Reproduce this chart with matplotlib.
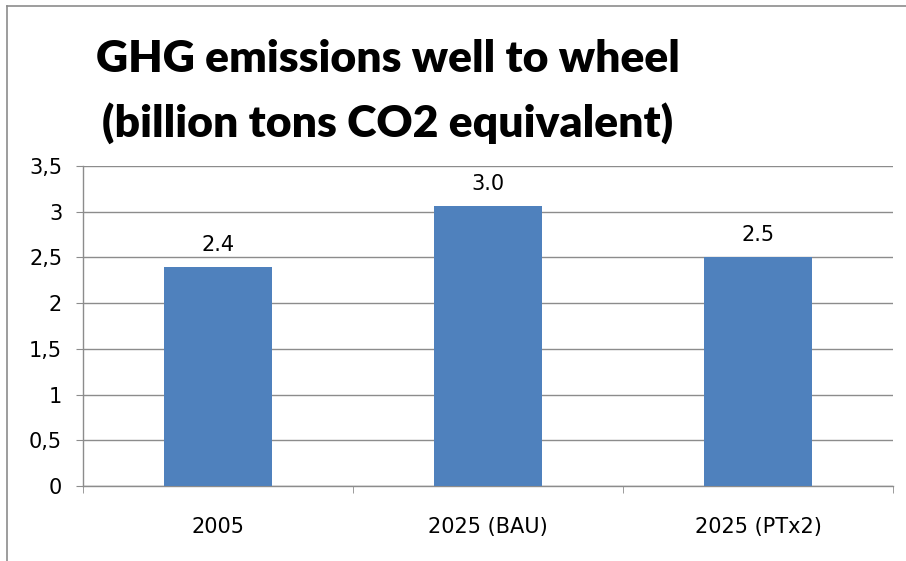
import matplotlib
matplotlib.use("Agg")
import matplotlib.pyplot as plt
from matplotlib.lines import Line2D
from matplotlib.ticker import FuncFormatter, FixedLocator
import numpy as np

categories = ["2005", "2025 (BAU)", "2025 (PTx2)"]
values = [2.39, 3.06, 2.5]
value_labels = ["2.4", "3.0", "2.5"]
yticks = [0, 0.5, 1, 1.5, 2, 2.5, 3, 3.5]

plt.rcParams['font.family'] = ['DejaVu Sans']

fig = plt.figure(figsize=(9.06, 5.61), dpi=100)
ax = fig.add_axes([0.0916, 0.1337, 0.894, 0.5704])

x = np.arange(len(categories))
bars = ax.bar(x, values, width=0.4, color='#4f81bd', zorder=3)

for b, v, lab in zip(bars, values, value_labels):
    ax.annotate(lab, (b.get_x() + b.get_width() / 2, v),
                xytext=(0, 9), textcoords='offset points',
                ha='center', va='bottom', fontsize=15)

ax.set_xlim(-0.5, len(categories) - 0.5)
ax.set_ylim(0, 3.5)
ax.set_yticks(yticks)
ax.yaxis.set_major_formatter(FuncFormatter(lambda v, p: ('%g' % v).replace('.', ',')))
ax.grid(axis='y', color='#8c8c8c', linewidth=1, zorder=0)

ax.set_xticks(x)
ax.set_xticklabels(categories, fontsize=15)
ax.xaxis.set_minor_locator(FixedLocator(np.arange(len(categories) + 1) - 0.5))
ax.tick_params(axis='x', which='major', length=0, pad=22)
ax.tick_params(axis='x', which='minor', length=5, color='#8c8c8c', direction='out')
ax.tick_params(axis='y', length=5, color='#8c8c8c', labelsize=15, pad=10)

for s in ['top', 'right']:
    ax.spines[s].set_visible(False)
for s in ['left', 'bottom']:
    ax.spines[s].set_color('#8c8c8c')
    ax.spines[s].set_linewidth(1)

fig.text(0.428, 0.837, "GHG emissions well to wheel\n(billion tons CO2 equivalent)",
         ha='center', va='center', fontsize=32, fontweight='heavy',
         linespacing=1.65, family=['Lato', 'DejaVu Sans'])

# chart border, only top and left visible in the crop
fig.add_artist(Line2D([7 / 906, 7 / 906], [0, 1 - 6 / 561], color='#8c8c8c', lw=1.2))
fig.add_artist(Line2D([7 / 906, 1], [1 - 6 / 561, 1 - 6 / 561], color='#8c8c8c', lw=1.2))

fig.savefig("out.png", dpi=100)
